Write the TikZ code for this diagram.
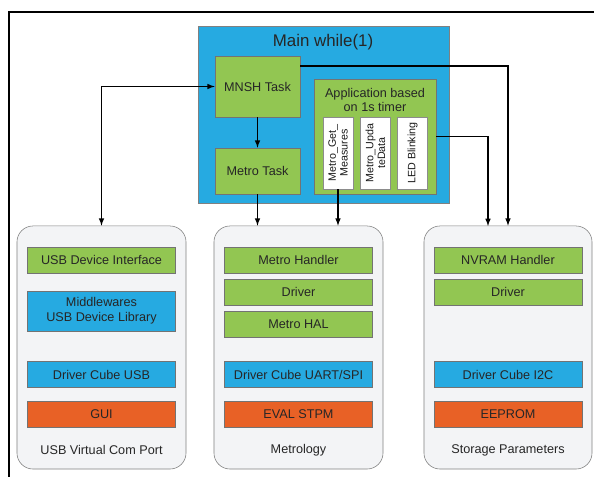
\documentclass[tikz,border=0pt]{standalone}
\usepackage{fontspec}
\setmainfont{Liberation Sans}
\definecolor{layergreen}{RGB}{146,198,82}
\definecolor{layerblue}{RGB}{38,170,225}
\definecolor{layerorange}{RGB}{232,97,38}
\definecolor{groupgray}{RGB}{243,244,246}

\begin{document}
\begin{tikzpicture}[x=0.025cm, y=-0.025cm]
    % Define styles
    \tikzset{
        greenbox/.style={draw=black!55, fill=layergreen, minimum width=3.7cm, minimum height=0.65cm, font=\fontsize{9}{10.5}\selectfont, text=black!85, align=center},
        bluebox/.style={greenbox, fill=layerblue},
        orangebox/.style={greenbox, fill=layerorange},
        groupbox/.style={draw=black!50, fill=groupgray, rounded corners=0.4cm, minimum width=4.225cm, minimum height=6.075cm},
        taskbox/.style={draw=black!55, fill=layergreen, minimum width=2.125cm, font=\fontsize{9}{10.5}\selectfont, text=black!85, align=center},
        funcbox/.style={draw=black!45, fill=white, rotate=90, minimum width=1.8cm, minimum height=0.74cm, inner sep=1pt, font=\fontsize{7.6}{8.4}\selectfont, text=black!90, align=center},
        grouplabel/.style={font=\fontsize{9}{10.5}\selectfont, text=black!85},
        thickarrow/.style={->, >=latex, thick}
    }
    \useasboundingbox (0,0) rectangle (594,477);

    % Frame
    \draw[line width=1.1pt] (9,477) -- (9,12) -- (594,12);

    % Main loop
    \node[draw=black!50, fill=layerblue, minimum width=6.275cm, minimum height=4.425cm] (mainloop) at (323.5,114.5) {};
    \node[font=\fontsize{12}{14}\selectfont, text=black!85] (maintitle) at (323,42) {Main while(1)};
    \node[taskbox, minimum height=1.525cm] (mnsh) at (257.5,86.5) {MNSH Task};
    \node[taskbox, minimum height=1.15cm] (metrotask) at (257.5,171) {Metro Task};
    \node[taskbox, minimum width=3.05cm, minimum height=2.875cm] (app) at (375,136.5) {};
    \node[font=\fontsize{9}{10.5}\selectfont, text=black!85, align=center] (apptitle) at (375,100) {Application based\\on 1s timer};
    \node[funcbox] (getmeas) at (338,153) {Metro\_Get\_\\Measures};
    \node[funcbox] (update) at (375.5,153) {Metro\_Upda\\teData};
    \node[funcbox] (ledblink) at (412.5,153) {LED Blinking};

    % Groups
    \node[groupbox] (usbport) at (101.5,347.5) {};
    \node[groupbox] (metrology) at (298.5,347.5) {};
    \node[groupbox, minimum width=4.2cm] (storage) at (508,347.5) {};

    % USB Virtual Com Port
    \node[greenbox] (usbif) at (101.5,260) {USB Device Interface};
    \node[bluebox, minimum height=1cm] (middleware) at (101.5,311) {Middlewares\\USB Device Library};
    \node[bluebox] (cubeusb) at (101.5,374.5) {Driver Cube USB};
    \node[orangebox] (gui) at (101.5,414.5) {GUI};
    \node[grouplabel] (usblabel) at (101.5,450) {USB Virtual Com Port};

    % Metrology
    \node[greenbox] (metrohandler) at (298.5,260) {Metro Handler};
    \node[greenbox] (metrodriver) at (298.5,292) {Driver};
    \node[greenbox] (metrohal) at (298.5,324) {Metro HAL};
    \node[bluebox] (cubeuart) at (298.5,374.5) {Driver Cube UART/SPI};
    \node[orangebox] (evalstpm) at (298.5,414.5) {EVAL STPM};
    \node[grouplabel] (metrolabel) at (298.5,450) {Metrology};

    % Storage Parameters
    \node[greenbox] (nvram) at (508,260) {NVRAM Handler};
    \node[greenbox] (nvdriver) at (508,292) {Driver};
    \node[bluebox] (cubei2c) at (508,374.5) {Driver Cube I2C};
    \node[orangebox] (eeprom) at (508,414.5) {EEPROM};
    \node[grouplabel] (storlabel) at (508,450) {Storage Parameters};

    % Arrows
    \coordinate (mnshout) at (300,66);
    \coordinate (storin) at (488,226);
    \draw[thickarrow, <->] (mnsh.west) -| (usbport.north);
    \draw[thickarrow] (mnsh) -- (metrotask);
    \draw[thickarrow] (metrotask) -- (metrotask |- metrology.north);
    \draw[thickarrow] (getmeas) -- (getmeas |- metrology.north);
    \draw[thickarrow] (mnshout) -| (storage.north);
    \draw[thickarrow] (app.east) -| (storin);

\end{tikzpicture}
\end{document}
